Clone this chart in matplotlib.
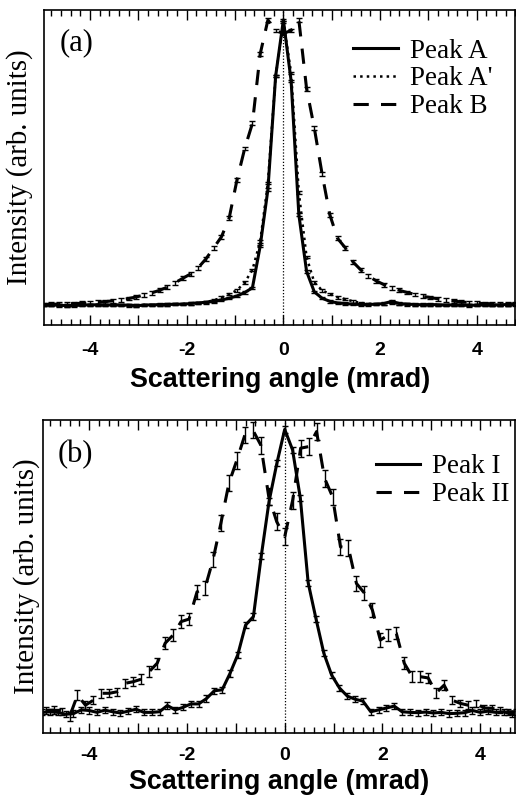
import numpy as np
import matplotlib
matplotlib.use("Agg")
import matplotlib.pyplot as plt
from matplotlib.ticker import MultipleLocator, FuncFormatter

plt.rcParams['axes.unicode_minus'] = False

# ------------------------------
# Panel (a) data (intensity as fraction of axis height)
# ------------------------------
angle_a = np.round(np.arange(-4.96, 4.81, 0.16), 2)

peak_a = [0.064, 0.063, 0.063, 0.061, 0.062, 0.063, 0.064, 0.064, 0.063, 0.064,
          0.063, 0.063, 0.061, 0.063, 0.064, 0.064, 0.065, 0.066, 0.066, 0.068,
          0.070, 0.072, 0.075, 0.079, 0.085, 0.092, 0.103, 0.118, 0.250, 0.430,
          0.790, 0.968, 0.775, 0.350, 0.170, 0.105, 0.085, 0.075, 0.070, 0.068,
          0.066, 0.065, 0.065, 0.066, 0.068, 0.075, 0.068, 0.066, 0.065, 0.064,
          0.065, 0.064, 0.063, 0.064, 0.063, 0.062, 0.063, 0.064, 0.063, 0.064,
          0.065, 0.066]

peak_a_prime = [0.063, 0.064, 0.062, 0.062, 0.063, 0.064, 0.063, 0.064, 0.064, 0.063,
                0.064, 0.062, 0.062, 0.064, 0.063, 0.065, 0.065, 0.066, 0.067, 0.068,
                0.070, 0.073, 0.078, 0.087, 0.098, 0.110, 0.135, 0.175, 0.265, 0.450,
                0.790, 0.962, 0.800, 0.420, 0.215, 0.135, 0.110, 0.098, 0.088, 0.082,
                0.075, 0.070, 0.067, 0.066, 0.067, 0.072, 0.067, 0.065, 0.064, 0.065,
                0.064, 0.064, 0.063, 0.063, 0.064, 0.063, 0.063, 0.064, 0.064, 0.063,
                0.064, 0.066]

peak_b = [0.065, 0.066, 0.066, 0.067, 0.068, 0.069, 0.070, 0.072, 0.074, 0.077,
          0.080, 0.084, 0.089, 0.095, 0.102, 0.110, 0.120, 0.134, 0.148, 0.162,
          0.182, 0.210, 0.245, 0.280, 0.340, 0.460, 0.560, 0.640, 0.860, 0.968,
          0.935, 0.925, 0.935, 0.968, 0.750, 0.625, 0.480, 0.350, 0.275, 0.245,
          0.200, 0.175, 0.155, 0.140, 0.128, 0.118, 0.110, 0.103, 0.097, 0.091,
          0.087, 0.083, 0.079, 0.076, 0.073, 0.071, 0.069, 0.068, 0.067, 0.067,
          0.066, 0.066]

err_a = 0.004
err_b = 0.006

# ------------------------------
# Panel (b) data
# ------------------------------
angle_b1 = np.round(np.arange(-4.96, 4.81, 0.16), 2)

peak_i = [0.066, 0.068, 0.066, 0.060, 0.062, 0.074, 0.072, 0.066, 0.073, 0.068,
          0.064, 0.070, 0.076, 0.066, 0.066, 0.068, 0.088, 0.074, 0.082, 0.093,
          0.093, 0.110, 0.135, 0.138, 0.190, 0.250, 0.345, 0.372, 0.565, 0.740,
          0.862, 0.970, 0.905, 0.750, 0.480, 0.365, 0.255, 0.185, 0.144, 0.118,
          0.108, 0.102, 0.068, 0.074, 0.080, 0.086, 0.068, 0.066, 0.065, 0.067,
          0.064, 0.066, 0.062, 0.063, 0.065, 0.072, 0.066, 0.070, 0.066, 0.068,
          0.060, 0.056]
err_i = 0.01

angle_b2 = np.round(np.arange(-30, 30) * 0.163, 3)

peak_ii = [0.072, 0.073, 0.068, 0.052, 0.121, 0.089, 0.105, 0.127, 0.127, 0.132,
           0.159, 0.164, 0.172, 0.196, 0.223, 0.287, 0.313, 0.356, 0.364, 0.451,
           0.463, 0.553, 0.671, 0.798, 0.872, 0.952, 0.968, 0.920, 0.755, 0.675,
           0.627, 0.744, 0.910, 0.915, 0.963, 0.814, 0.755, 0.595, 0.591, 0.478,
           0.447, 0.393, 0.297, 0.313, 0.319, 0.223, 0.180, 0.180, 0.176, 0.128,
           0.153, 0.105, 0.095, 0.089, 0.095, 0.080, 0.079, 0.073, 0.068, 0.068]

err_ii = [0.012, 0.012, 0.012, 0.015, 0.015, 0.013,
          0.013, 0.014, 0.013, 0.013, 0.015, 0.015, 0.016,
          0.017, 0.018, 0.020, 0.020, 0.020, 0.020, 0.022,
          0.022, 0.024, 0.025, 0.026, 0.027, 0.027, 0.027,
          0.027, 0.027, 0.027, 0.027, 0.027, 0.027, 0.027,
          0.027, 0.027, 0.026, 0.026, 0.025, 0.024, 0.023,
          0.022, 0.022, 0.020, 0.020, 0.019, 0.018, 0.017,
          0.016, 0.015, 0.015, 0.013, 0.012, 0.012, 0.012,
          0.011, 0.011, 0.010, 0.010, 0.010]

SERIF = 'Liberation Serif'
SANS = 'Liberation Sans'
DASH = (0, (5, 4))
LW = 2.2


def style_axes(ax, xlim, label_y, tick_pad, xlabel_pad):
    ax.set_xlim(*xlim)
    ax.set_ylim(0, 1)
    ax.xaxis.set_major_locator(MultipleLocator(1))
    ax.xaxis.set_minor_locator(MultipleLocator(0.2))
    ax.xaxis.set_major_formatter(FuncFormatter(
        lambda v, p: f"{int(round(v))}" if round(v) % 2 == 0 else ""))
    ax.tick_params(axis='x', which='both', direction='in', top=True, bottom=True,
                   width=1, pad=tick_pad)
    ax.tick_params(axis='x', which='major', length=7)
    ax.tick_params(axis='x', which='minor', length=4)
    ax.tick_params(axis='y', left=False, labelleft=False)
    for lab in ax.get_xticklabels():
        lab.set_fontfamily(SANS)
        lab.set_fontweight('bold')
        lab.set_fontsize(14)
    for sp in ax.spines.values():
        sp.set_linewidth(1.2)
    ax.set_xlabel("Scattering angle (mrad)", fontfamily=SANS, fontweight='bold',
                  fontsize=19.4, labelpad=xlabel_pad)
    ax.set_ylabel("Intensity (arb. units)", fontfamily=SERIF, fontsize=20.9)
    ax.yaxis.set_label_coords(label_y, 0.5)
    ax.axvline(0, color='k', ls=(0, (1, 1.5)), lw=0.9)


fig = plt.figure(figsize=(5.16, 8.02), dpi=100)

# ------------------------------
# Panel (a)
# ------------------------------
ax1 = fig.add_axes([0.0853, 0.5948, 0.9137, 0.3928])
ax1.errorbar(angle_a, peak_a, yerr=err_a, color='k', lw=LW, elinewidth=1,
             capsize=2, label="Peak A")
ax1.errorbar(angle_a, peak_a_prime, yerr=err_a, color='k', lw=1.8, ls=':',
             elinewidth=1, capsize=2, label="Peak A'")
ax1.errorbar(angle_a, peak_b, yerr=err_b, color='k', lw=LW, ls=DASH,
             elinewidth=1, capsize=2.5, label="Peak B")
style_axes(ax1, (-4.95, 4.8), -0.023, 12, 6)
ax1.text(0.034, 0.895, "(a)", transform=ax1.transAxes, fontfamily=SERIF,
         fontsize=22, va='center')
handles, labels = ax1.get_legend_handles_labels()
ax1.legend([h[0] for h in handles], labels, loc='upper left',
           bbox_to_anchor=(0.655, 0.909), frameon=False, borderpad=0,
           borderaxespad=0, handlelength=1.65, handletextpad=0.45,
           labelspacing=0.1, prop={'family': SERIF, 'size': 19.5})

# ------------------------------
# Panel (b)
# ------------------------------
ax2 = fig.add_axes([0.0827, 0.0860, 0.9163, 0.3903])
ax2.errorbar(angle_b1, peak_i, yerr=err_i, color='k', lw=LW, elinewidth=1,
             capsize=2.5, label="Peak I")
ax2.errorbar(angle_b2, peak_ii, yerr=err_ii, color='k', lw=LW, ls=DASH,
             elinewidth=1, capsize=2.2, label="Peak II")
style_axes(ax2, (-4.95, 4.72), -0.006, 10, 4)
ax2.text(0.032, 0.888, "(b)", transform=ax2.transAxes, fontfamily=SERIF,
         fontsize=22, va='center')
handles, labels = ax2.get_legend_handles_labels()
ax2.legend([h[0] for h in handles], labels, loc='upper left',
           bbox_to_anchor=(0.704, 0.89), frameon=False, borderpad=0,
           borderaxespad=0, handlelength=1.65, handletextpad=0.45,
           labelspacing=0.1, prop={'family': SERIF, 'size': 19.5})

fig.savefig("out.png", dpi=100)
